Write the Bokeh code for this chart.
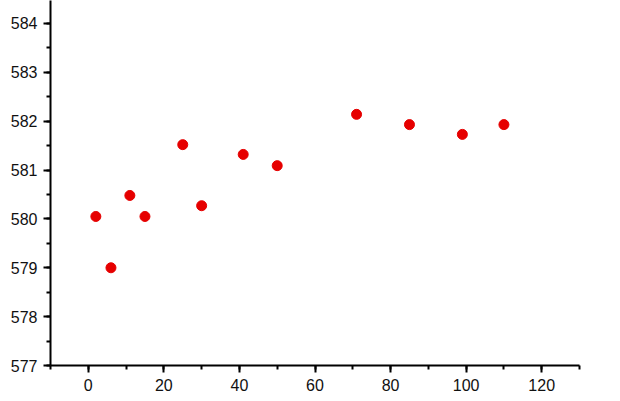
from bokeh.plotting import figure
from bokeh.models import Range1d, SingleIntervalTicker
from bokeh.embed import file_html
from bokeh.resources import INLINE

x_vals = [2, 6, 11, 15, 25, 30, 41, 50, 71, 85, 99, 110]
y_vals = [580.05, 579.0, 580.48, 580.05, 581.52, 580.27, 581.32, 581.09, 582.14, 581.93, 581.73, 581.93]

p = figure(width=612, height=398, output_backend="svg", toolbar_location=None,
           x_range=Range1d(-10, 130), y_range=Range1d(577, 584.47),
           min_border_left=50, min_border_right=33, min_border_top=0, min_border_bottom=33)
p.outline_line_color = None
p.xgrid.grid_line_color = None
p.ygrid.grid_line_color = None

p.scatter(x_vals, y_vals, size=10, fill_color="#e60000", line_color="#e60000")

p.xaxis.ticker = SingleIntervalTicker(interval=20, num_minor_ticks=2)
p.yaxis.ticker = SingleIntervalTicker(interval=1, num_minor_ticks=2)
for ax in (p.xaxis[0], p.yaxis[0]):
    ax.axis_line_width = 2
    ax.axis_line_color = "black"
    ax.major_tick_line_width = 2
    ax.minor_tick_line_width = 2
    ax.major_tick_line_color = "black"
    ax.minor_tick_line_color = "black"
    ax.major_tick_out = 7
    ax.major_tick_in = 0
    ax.minor_tick_out = 4
    ax.minor_tick_in = 0
    ax.major_label_text_font = "Liberation Sans"
    ax.major_label_text_font_size = "16px"
    ax.major_label_text_color = "#111111"
    ax.major_label_standoff = 6

open("out.html", "w").write(file_html(p, INLINE))
